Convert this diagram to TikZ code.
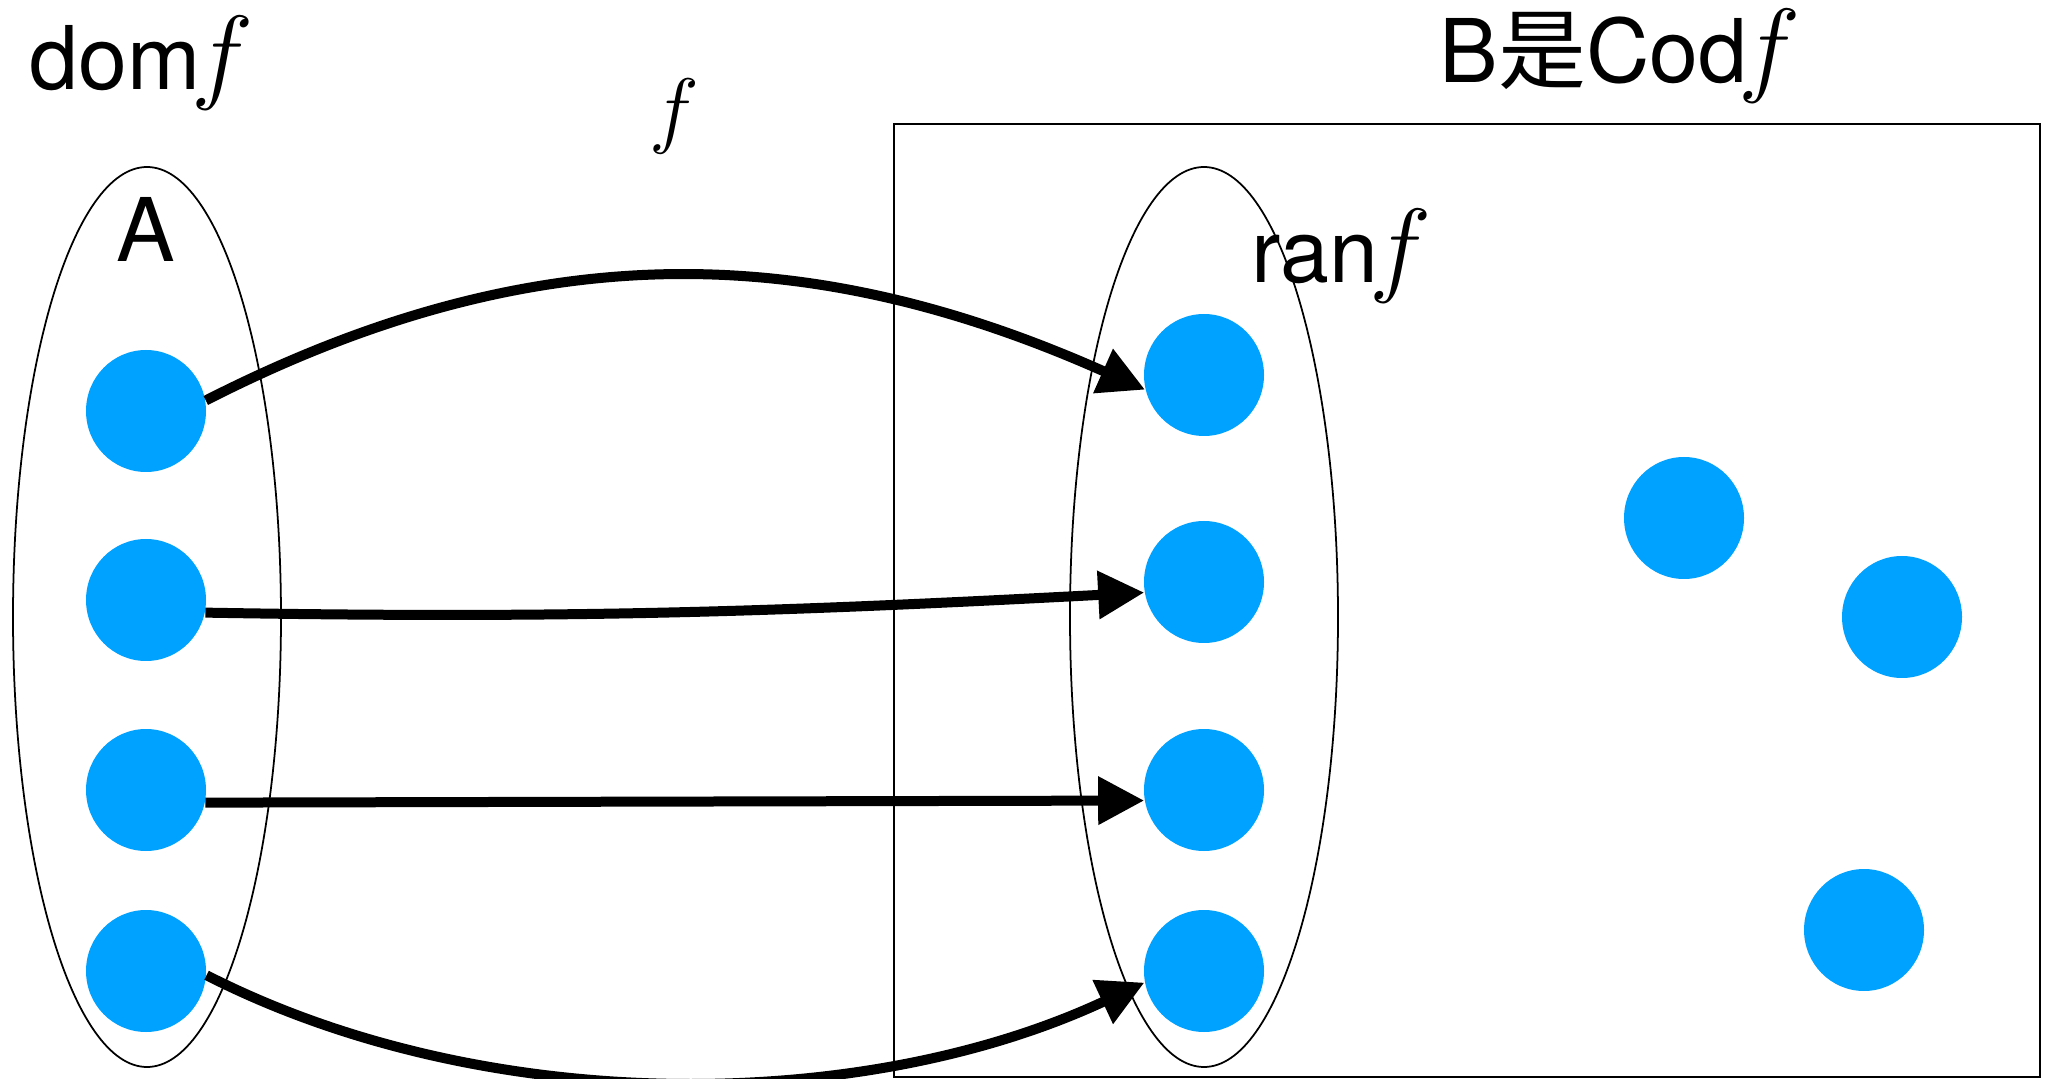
\RequirePackage{fix-cm}
\documentclass[tikz,border=0pt]{standalone}
\usepackage{fontspec}
\setmainfont{TeX Gyre Heros}
\newfontfamily\cjk{Noto Sans CJK SC}
\usetikzlibrary{arrows.meta,shapes.geometric}
\definecolor{elemblue}{HTML}{00A2FF}
\newcommand{\bigf}{\kern-0.1em{\fontsize{30}{30}\selectfont$f$}}

\begin{document}
\begin{tikzpicture}[
  x=0.1mm, y=0.1mm,
  font=\fontsize{25}{29}\selectfont,
  >={Triangle[length=4.6mm,width=4.6mm]},
  elem/.style={ellipse, fill=elemblue, minimum width=12mm, minimum height=12.2mm, inner sep=0pt},
  setoval/.style={ellipse, draw=black, line width=0.5pt, minimum width=26.8mm, minimum height=90mm, inner sep=0pt},
  codbox/.style={draw=black, line width=0.5pt, minimum width=114.6mm, minimum height=95.3mm, inner sep=0pt},
  lbl/.style={inner sep=0pt},
  mapto/.style={->, line width=1mm, draw=black}
]
  \useasboundingbox[fill=white] (0,0) rectangle (2047,1078);

  % codomain box and the two sets
  \node[codbox] (codB) at (1467,477.5) {};
  \node[setoval] (domA) at (147,461) {};
  \node[setoval] (ranB) at (1204,461) {};

  % labels
  \node[lbl,anchor=base west] (domlbl) at (29,988) {dom\bigf};
  \node[lbl,anchor=base] (Albl) at (146,816) {A};
  \node[lbl,anchor=base] (flbl) at (674,940) {\fontsize{24}{28}\selectfont$f$};
  \node[lbl,anchor=base west] (ranlbl) at (1251,795) {ran\bigf};
  \node[lbl,anchor=base west] (codlbl) at (1439,995) {B{\cjk 是}Cod\bigf};

  % elements of A
  \node[elem] (a1) at (146,667) {};
  \node[elem] (a2) at (146,478) {};
  \node[elem] (a3) at (146,288) {};
  \node[elem] (a4) at (146,107) {};

  % elements of B
  \node[elem] (b1) at (1204,703) {};
  \node[elem] (b2) at (1204,496) {};
  \node[elem] (b3) at (1204,288) {};
  \node[elem] (b4) at (1204,107) {};
  \node[elem] (c1) at (1684,560) {};
  \node[elem] (c2) at (1902,461) {};
  \node[elem] (c3) at (1864,148) {};

  % the map f
  \draw[mapto] (a1.10) to[out=27,in=156] (b1.194);
  \draw[mapto] (a2.-12) to[out=-1,in=183] (b2.190);
  \draw[mapto] (a3.-12) -- (b3.190);
  \draw[mapto] (a4.-4) to[out=-27,in=205,looseness=0.85] (b4.191);
\end{tikzpicture}
\end{document}
